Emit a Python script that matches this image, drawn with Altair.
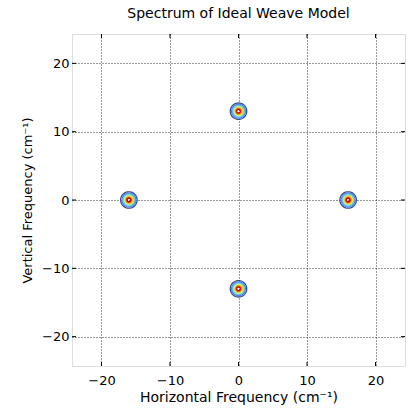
import altair as alt
import numpy as np
import pandas as pd

# Spectrum peaks (cm^-1)
peak_x = [0, 0, -16, 16]
peak_y = [13, -13, 0, 0]
sigma = 0.56
levels = [0.1, 0.2, 0.3, 0.4, 0.5, 0.6, 0.7, 0.8, 0.9]
level_colors = ["#3a4a9a", "#4f7fd8", "#5fb0f0", "#60d8f0", "#a0f0a0",
                "#f0f040", "#f8b020", "#f06010", "#c80000"]
ticks = [-20, -10, 0, 10, 20]
dom = [-24.3, 24.3]

# contour lines of gaussian peaks: exp(-r^2/(2 sigma^2)) = level
rows = []
ang = np.linspace(0, 2 * np.pi, 41)
for p, (cx, cy) in enumerate(zip(peak_x, peak_y)):
    for lv in levels:
        r = sigma * np.sqrt(-2 * np.log(lv))
        for k, a in enumerate(ang):
            rows.append({"x": cx + r * np.cos(a), "y": cy + r * np.sin(a),
                         "level": lv, "ring": f"{p}_{lv}", "k": k})
df = pd.DataFrame(rows)
tdf = pd.DataFrame({"t": ticks})

W, H = 333, 332
FONT = "DejaVu Sans"
xs = alt.Scale(domain=dom, nice=False, zero=False)
ys = alt.Scale(domain=dom, nice=False, zero=False)

grid_axis = dict(grid=True, gridColor="black", gridDash=[1, 2], gridWidth=0.8,
                 gridOpacity=1, domain=False, ticks=False, values=ticks,
                 labelFont=FONT, labelFontSize=13, labelColor="black",
                 titleFont=FONT, titleColor="black",
                 titleFontWeight="normal")

contours = alt.Chart(df).mark_line(strokeWidth=1.3, interpolate="linear").encode(
    x=alt.X("x:Q", scale=xs, axis=alt.Axis(title="Horizontal Frequency (cm⁻¹)", titleFontSize=14,
                                            labelPadding=8, titlePadding=3, **grid_axis)),
    y=alt.Y("y:Q", scale=ys, axis=alt.Axis(title="Vertical Frequency (cm⁻¹)", titleFontSize=13,
                                            labelPadding=3, titlePadding=7, **grid_axis)),
    color=alt.Color("level:O", scale=alt.Scale(domain=levels, range=level_colors), legend=None),
    detail="ring:N",
    order="k:Q",
)

tick_style = dict(color="black", strokeWidth=1)
xb = alt.Chart(tdf).mark_rule(**tick_style).encode(x=alt.X("t:Q", scale=xs), y=alt.value(H), y2=alt.value(H - 4))
xt = alt.Chart(tdf).mark_rule(**tick_style).encode(x=alt.X("t:Q", scale=xs), y=alt.value(0), y2=alt.value(4))
yl = alt.Chart(tdf).mark_rule(**tick_style).encode(y=alt.Y("t:Q", scale=ys), x=alt.value(0), x2=alt.value(4))
yr = alt.Chart(tdf).mark_rule(**tick_style).encode(y=alt.Y("t:Q", scale=ys), x=alt.value(W), x2=alt.value(W - 4))

chart = alt.layer(contours, xb, xt, yl, yr).properties(
    width=W, height=H,
    title=alt.TitleParams("Spectrum of Ideal Weave Model", font=FONT,
                          fontSize=14, fontWeight="normal", color="black", offset=13),
    autosize=alt.AutoSizeParams(type="none"),
    padding={"left": 72, "top": 34, "right": 7, "bottom": 46},
).configure_view(stroke="black", strokeWidth=1.2).configure(background="white")

chart.save("out.html", embed_options={"renderer": "svg", "actions": False})
